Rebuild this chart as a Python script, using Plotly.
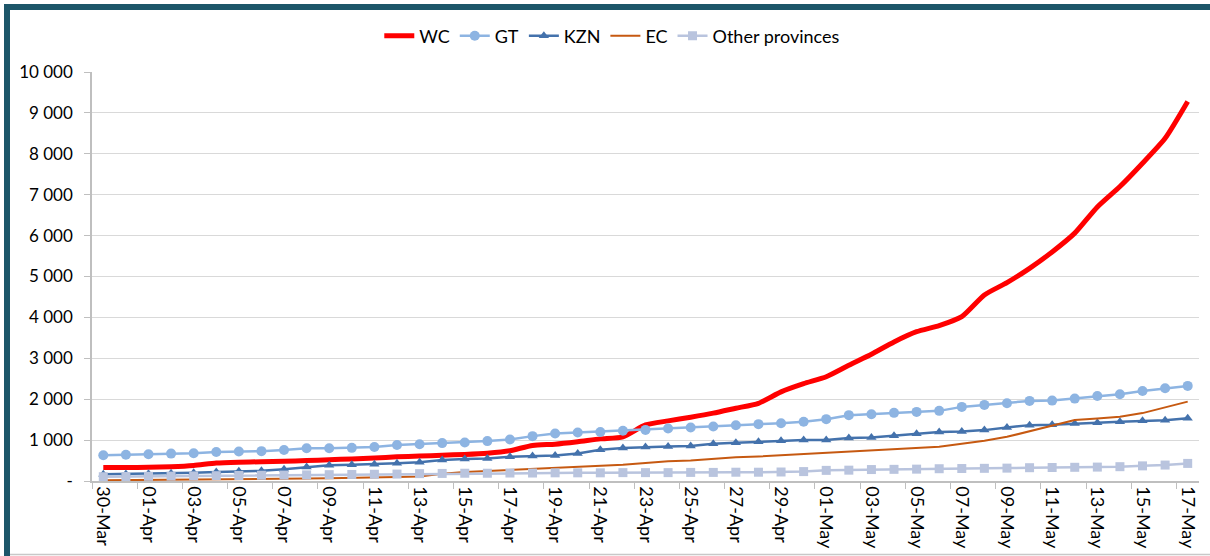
import plotly.graph_objects as go

dates = ["30-Mar", "31-Mar", "01-Apr", "02-Apr", "03-Apr", "04-Apr", "05-Apr", "06-Apr", "07-Apr",
         "08-Apr", "09-Apr", "10-Apr", "11-Apr", "12-Apr", "13-Apr", "14-Apr", "15-Apr", "16-Apr",
         "17-Apr", "18-Apr", "19-Apr", "20-Apr", "21-Apr", "22-Apr", "23-Apr", "24-Apr", "25-Apr",
         "26-Apr", "27-Apr", "28-Apr", "29-Apr", "30-Apr", "01-May", "02-May", "03-May", "04-May",
         "05-May", "06-May", "07-May", "08-May", "09-May", "10-May", "11-May", "12-May", "13-May",
         "14-May", "15-May", "16-May", "17-May"]

wc = [330, 330, 335, 350, 380, 440, 460, 470, 480, 500, 520, 540, 560, 590, 610, 630, 650, 680,
      740, 870, 900, 960, 1030, 1080, 1370, 1470, 1560, 1660, 1780, 1900, 2180, 2380, 2550, 2830,
      3100, 3400, 3650, 3800, 4020, 4550, 4850, 5200, 5600, 6060, 6700, 7200, 7770, 8380, 9280]

gt = [630, 640, 655, 670, 680, 710, 720, 730, 760, 800, 800, 810, 830, 880, 900, 927, 942, 975,
      1015, 1097, 1160, 1185, 1200, 1227, 1250, 1283, 1307, 1332, 1365, 1390, 1414, 1450, 1512,
      1610, 1634, 1666, 1690, 1715, 1812, 1861, 1902, 1959, 1966, 2015, 2080, 2122, 2202, 2268, 2325]

kzn = [166, 170, 180, 190, 200, 220, 240, 250, 290, 340, 385, 400, 410, 435, 460, 512, 537, 552,
       593, 610, 625, 673, 763, 805, 829, 844, 853, 910, 934, 958, 983, 1000, 1000, 1049, 1064,
       1105, 1154, 1195, 1210, 1244, 1307, 1366, 1373, 1405, 1422, 1446, 1471, 1488, 1537]

ec = [17, 20, 25, 30, 35, 40, 45, 50, 55, 60, 70, 75, 85, 100, 110, 180, 220, 245, 270, 300, 320,
      340, 370, 400, 440, 480, 500, 540, 580, 600, 630, 660, 690, 720, 760, 790, 815, 840, 910,
      985, 1080, 1220, 1360, 1490, 1530, 1570, 1660, 1800, 1940]

other = [105, 110, 115, 120, 125, 130, 135, 140, 145, 150, 155, 160, 165, 170, 180, 185, 190, 190,
         195, 195, 200, 200, 200, 205, 205, 205, 210, 210, 215, 215, 220, 230, 260, 265, 280, 285,
         290, 300, 305, 310, 315, 325, 330, 335, 340, 350, 370, 390, 430]

y_tickvals = [0, 1000, 2000, 3000, 4000, 5000, 6000, 7000, 8000, 9000, 10000]
y_ticktext = ["-", "1 000", "2 000", "3 000", "4 000", "5 000", "6 000", "7 000", "8 000",
              "9 000", "10 000"]

FONT = "Lato, 'Open Sans', sans-serif"

fig = go.Figure()
fig.add_trace(go.Scatter(x=dates, y=wc, name="WC", mode="lines",
                         line=dict(color="#ff0000", width=5, shape="spline", smoothing=0.6)))
fig.add_trace(go.Scatter(x=dates, y=gt, name="GT", mode="lines+markers",
                         line=dict(color="#8db4e2", width=2.5),
                         marker=dict(symbol="circle", size=10, color="#8db4e2")))
fig.add_trace(go.Scatter(x=dates, y=kzn, name="KZN", mode="lines+markers",
                         line=dict(color="#4472ac", width=2.5),
                         marker=dict(symbol="triangle-up", size=9, color="#4472ac")))
fig.add_trace(go.Scatter(x=dates, y=ec, name="EC", mode="lines",
                         line=dict(color="#c65911", width=2)))
fig.add_trace(go.Scatter(x=dates, y=other, name="Other provinces", mode="lines+markers",
                         line=dict(color="#b9c4de", width=2.5),
                         marker=dict(symbol="square", size=9, color="#b9c4de")))

L, R, T, B = 92, 11, 72, 75
W, H = 1210, 556
pw, ph = W - L - R, H - T - B


def px(xp):
    return (xp - L) / pw


def py(yp):
    return (H - B - yp) / ph


fig.update_layout(
    width=W, height=H,
    margin=dict(l=L, r=R, t=T, b=B, autoexpand=False),
    paper_bgcolor="white", plot_bgcolor="white",
    font=dict(family=FONT, size=17, color="#000000"),
    showlegend=True,
    legend=dict(orientation="h", x=0.47, xanchor="center", y=py(36), yanchor="middle",
                font=dict(size=18, family=FONT), itemwidth=30, bgcolor="rgba(0,0,0,0)"),
    xaxis=dict(type="category", range=[-0.5, 48.5], tickmode="linear", tick0=0, dtick=2,
               tickson="boundaries", ticks="outside", ticklen=6, tickcolor="#bfbfbf",
               tickangle=90, showgrid=False, showline=True, linecolor="#bfbfbf", linewidth=1.5,
               tickfont=dict(size=18, family=FONT), zeroline=False),
    yaxis=dict(range=[0, 10000], tickmode="array", tickvals=y_tickvals, ticktext=y_ticktext,
               ticks="outside", ticklen=6, tickcolor="#bfbfbf", showline=True,
               linecolor="#bfbfbf", linewidth=1.5, gridcolor="#d9d9d9", gridwidth=1.2,
               zeroline=False, tickfont=dict(size=17, family=FONT), ticklabelstandoff=8),
    shapes=[
        dict(type="rect", xref="paper", yref="paper", x0=px(4), x1=px(10), y0=py(556), y1=py(4),
             fillcolor="#1d5669", line=dict(width=0), layer="above"),
        dict(type="rect", xref="paper", yref="paper", x0=px(4), x1=px(1210), y0=py(10), y1=py(4),
             fillcolor="#1d5669", line=dict(width=0), layer="above"),
        dict(type="line", xref="paper", yref="paper", x0=px(10), x1=px(1210), y0=py(554.5),
             y1=py(554.5), line=dict(color="#c8c8c8", width=1.5)),
    ],
)

fig.write_html(
    "out.html",
    config={"displayModeBar": False},
    post_script="document.body.style.margin='0';document.body.style.overflow='hidden';",
)
